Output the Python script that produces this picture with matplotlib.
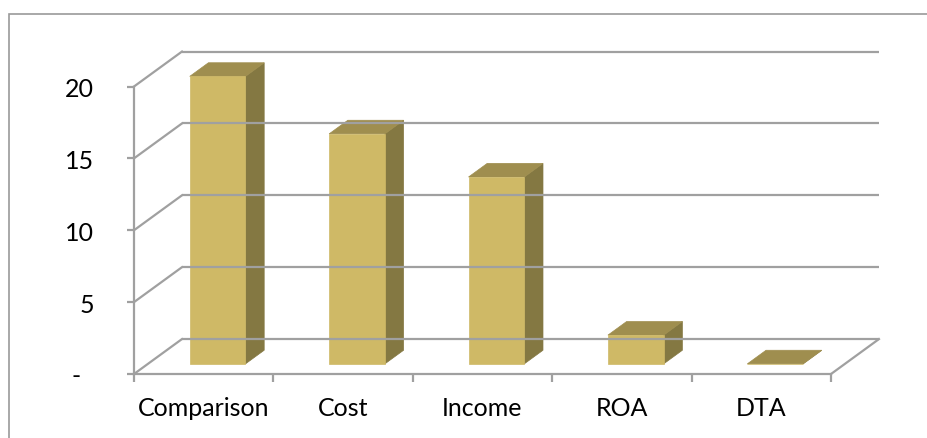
"""3D-style column chart of the comparison scores."""

import matplotlib
matplotlib.use('Agg')
import matplotlib.pyplot as plt
from matplotlib.patches import Polygon, Rectangle

categories = ['Comparison', 'Cost', 'Income', 'ROA', 'DTA']
values = [20, 16, 13, 2, 0]
y_ticks = [0, 5, 10, 15, 20]
y_tick_labels = ['-  ', '5', '10', '15', '20']

# oblique projection of the depth axis, in data units (categories, value)
DX, DY = 0.344, 2.43
D_FRONT, D_BACK = 0.29, 0.68   # bar depth span inside the plot box
BAR_W = 0.40

FACE, TOP, SIDE = '#CFB966', '#9F8E4F', '#847842'
GRID = '#A0A0A0'


def proj(x, y, d):
    return (x + d * DX, y + d * DY)


def main():
    plt.rcParams['font.family'] = ['Lato', 'DejaVu Sans']
    fig = plt.figure(figsize=(9.28, 4.39), dpi=100)
    ax = fig.add_axes([134 / 928, 64 / 439, 697 / 928, 287.5 / 439])
    n = len(categories)
    ax.set_xlim(0, n)
    ax.set_ylim(0, max(y_ticks))
    for s in ax.spines.values():
        s.set_visible(False)
    ax.patch.set_visible(False)

    # walls: back gridlines and side diagonals
    for v in y_ticks:
        xs, ys = zip(proj(0, v, 1), proj(n, v, 1))
        ax.plot(xs, ys, color=GRID, lw=1.6, clip_on=False, solid_capstyle='butt')
        xs, ys = zip(proj(0, v, 0), proj(0, v, 1))
        ax.plot(xs, ys, color=GRID, lw=1.6, clip_on=False)
    # floor edges
    xs, ys = zip(proj(n, 0, 0), proj(n, 0, 1))
    ax.plot(xs, ys, color=GRID, lw=1.6, clip_on=False)

    # columns
    for i, v in enumerate(values):
        x0 = i + 0.5 - BAR_W / 2
        x1 = x0 + BAR_W
        front = [proj(x0, 0, D_FRONT), proj(x1, 0, D_FRONT), proj(x1, v, D_FRONT), proj(x0, v, D_FRONT)]
        top = [proj(x0, v, D_FRONT), proj(x1, v, D_FRONT), proj(x1, v, D_BACK), proj(x0, v, D_BACK)]
        side = [proj(x1, 0, D_FRONT), proj(x1, 0, D_BACK), proj(x1, v, D_BACK), proj(x1, v, D_FRONT)]
        for pts, c in ((side, SIDE), (top, TOP), (front, FACE)):
            ax.add_patch(Polygon(pts, closed=True, facecolor=c, edgecolor=c, lw=0.5, clip_on=False))

    # front axes
    ax.plot([0, n], [0, 0], color=GRID, lw=1.6, clip_on=False, zorder=5)
    ax.plot([0, 0], [0, max(y_ticks)], color=GRID, lw=1.6, clip_on=False, zorder=5)

    ax.set_yticks(y_ticks, y_tick_labels, fontsize=18)
    ax.tick_params(axis='y', length=5, width=1.6, color=GRID, pad=24)
    ax.set_xticks([i + 0.5 for i in range(n)], categories, fontsize=18)
    ax.set_xticks(range(n + 1), minor=True)
    ax.tick_params(axis='x', which='major', length=0, pad=16)
    ax.tick_params(axis='x', which='minor', length=6, width=1.6, color=GRID)

    # chart area border
    fig.patches.append(Rectangle((9 / 928, -0.1), 1.1, 1.1 - 15 / 439, transform=fig.transFigure,
                                 fill=False, edgecolor='#9A9A9A', lw=1.2))

    fig.savefig('out.png', dpi=100)


if __name__ == '__main__':
    main()
